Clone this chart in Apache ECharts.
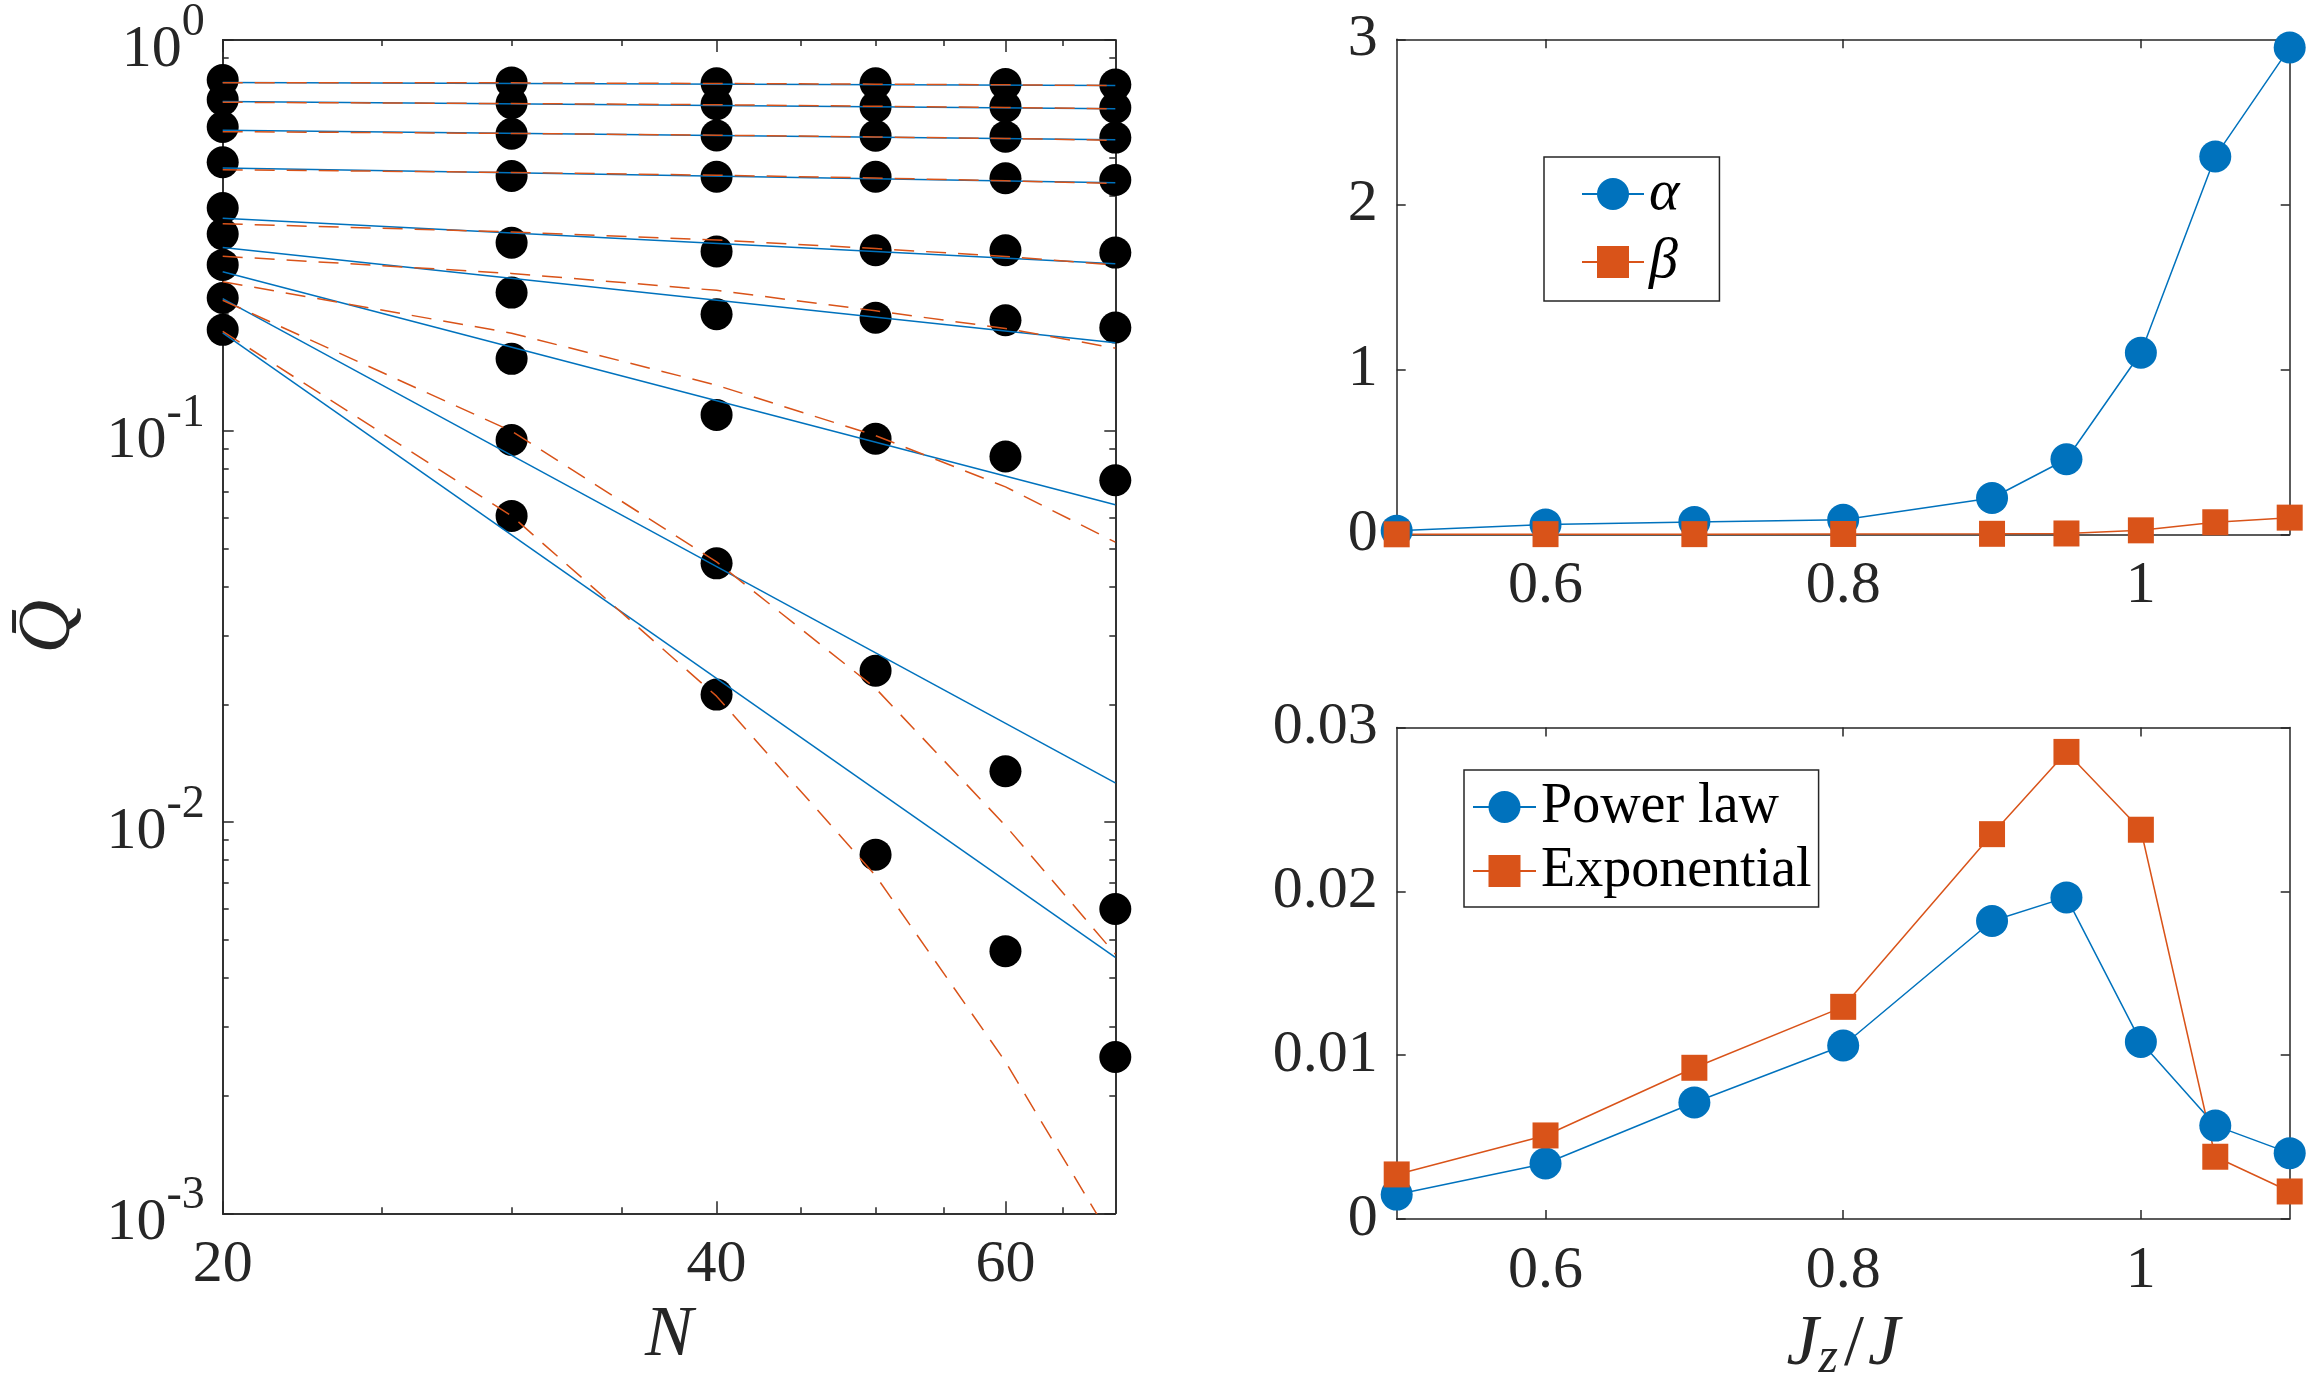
<!DOCTYPE html>
<html>
<head>
<meta charset="utf-8">
<title>Q vs N, fit exponents and errors</title>
<script src="https://cdn.jsdelivr.net/npm/echarts@6/dist/echarts.min.js"></script>
<style>
  html, body { margin: 0; padding: 0; background: #fff; }
  #main { width: 2313px; height: 1385px; }
</style>
</head>
<body>
<div id="main"></div>
<script>
// ---- left panel: Q(N) on log-log axes ----
const nValues = [20, 30, 40, 50, 60, 70];

// one row per curve, values at nValues
const qRow1 = [0.790, 0.779, 0.775, 0.775, 0.772, 0.769];
const qRow2 = [0.703, 0.689, 0.685, 0.675, 0.675, 0.671];
const qRow3 = [0.599, 0.576, 0.570, 0.569, 0.566, 0.563];
const qRow4 = [0.487, 0.449, 0.447, 0.447, 0.443, 0.4385];
const qRow5 = [0.372, 0.303, 0.288, 0.290, 0.290, 0.286];
const qRow6 = [0.319, 0.226, 0.199, 0.195, 0.192, 0.184];
const qRow7 = [0.266, 0.153, 0.110, 0.0956, 0.0861, 0.0749];
const qRow8 = [0.219, 0.0949, 0.0459, 0.0244, 0.0135, 0.0060];
const qRow9 = [0.1815, 0.0607, 0.0212, 0.00826, 0.00468, 0.00251];
const qRows = [qRow1, qRow2, qRow3, qRow4, qRow5, qRow6, qRow7, qRow8, qRow9];

// power-law fits (straight on log-log), values at N = 20 and N = 70
const powerN = [20, 70];
const powerFit = [
  [0.779, 0.765],
  [0.696, 0.667],
  [0.588, 0.5556],
  [0.471, 0.4316],
  [0.350, 0.2677],
  [0.2949, 0.1682],
  [0.2554, 0.0648],
  [0.2182, 0.0126],
  [0.1782, 0.00451]
];

// exponential fits (dashed), read at nValues
const expFit = [
  [0.778, 0.777, 0.774, 0.771, 0.768, 0.765],
  [0.693, 0.688, 0.683, 0.677, 0.672, 0.667],
  [0.583, 0.577, 0.571, 0.565, 0.560, 0.554],
  [0.466, 0.4585, 0.451, 0.4437, 0.4364, 0.4294],
  [0.339, 0.323, 0.308, 0.293, 0.2795, 0.266],
  [0.280, 0.253, 0.229, 0.203, 0.183, 0.163],
  [0.241, 0.178, 0.131, 0.0974, 0.072, 0.052],
  [0.216, 0.100, 0.0463, 0.0220, 0.0098, 0.0046],
  [0.180, 0.0607, 0.0210, 0.0073, 0.00244, 0.00083]
];

const leftXMajor = [20, 40, 60];
const leftXMinor = [25, 30, 35, 45, 50, 55, 65];
const leftYMajor = [0.001, 0.01, 0.1, 1];
const leftYMinor = [0.002, 0.003, 0.004, 0.005, 0.006, 0.007, 0.008, 0.009,
                    0.02, 0.03, 0.04, 0.05, 0.06, 0.07, 0.08, 0.09,
                    0.2, 0.3, 0.4, 0.5, 0.6, 0.7, 0.8, 0.9];

// ---- right panels: vs Jz/J ----
const jz = [0.5, 0.6, 0.7, 0.8, 0.9, 0.95, 1.0, 1.05, 1.1];
const alpha = [0.022, 0.060, 0.075, 0.088, 0.220, 0.455, 1.10, 2.29, 2.95];
const beta = [0.000, 0.001, 0.001, 0.002, 0.003, 0.005, 0.024, 0.073, 0.101];
const errPower = [0.00149, 0.00339, 0.00711, 0.01059, 0.01819, 0.01963, 0.01081, 0.00570, 0.00402];
const errExp = [0.00272, 0.00510, 0.00923, 0.01295, 0.02349, 0.02851, 0.02376, 0.00380, 0.00168];
const rightXTicks = [0.6, 0.8, 1];

const BLUE = '#0072BD';
const RED = '#D95319';
const INK = '#262626';
const FONT = "'Liberation Serif', 'Times New Roman', 'DejaVu Serif', serif";

function mkAxis(type, grid, position, min, max, ticks, tickLen, label) {
  const ax = {
    type: type,
    gridIndex: grid,
    position: position,
    min: min,
    max: max,
    axisLine: { show: true, onZero: false, lineStyle: { color: INK, width: 1.5 } },
    splitLine: { show: false },
    axisTick: { show: true, inside: true, length: tickLen, lineStyle: { color: INK, width: 1.5 } },
    axisLabel: { show: false }
  };
  if (type === 'log') ax.logBase = 10;
  if (ticks) ax.axisTick.customValues = ticks;
  if (label) {
    ax.axisLabel = Object.assign({ show: true, color: INK, fontFamily: FONT, fontSize: 60 }, label);
    if (ticks) ax.axisLabel.customValues = ticks;
  }
  return ax;
}

const supRich = {
  b: { fontFamily: FONT, fontSize: 60, lineHeight: 60, color: INK, padding: [20, 0, 0, 0] },
  s: { fontFamily: FONT, fontSize: 46, lineHeight: 46, color: INK, padding: [0, 0, 34, 0] }
};

const xAxes = [
  // left panel
  Object.assign(mkAxis('log', 0, 'bottom', 20, 70, leftXMajor, 12, { margin: 22 }), {
    name: 'N', nameLocation: 'middle', nameGap: 85,
    nameTextStyle: { fontFamily: FONT, fontStyle: 'italic', fontSize: 72, color: INK }
  }),
  mkAxis('log', 0, 'bottom', 20, 70, leftXMinor, 6),
  mkAxis('log', 0, 'top', 20, 70, leftXMajor, 12),
  mkAxis('log', 0, 'top', 20, 70, leftXMinor, 6),
  // top right
  mkAxis('value', 1, 'bottom', 0.5, 1.1, rightXTicks, 9, { margin: 22, formatter: v => String(v) }),
  mkAxis('value', 1, 'top', 0.5, 1.1, rightXTicks, 9),
  // bottom right
  Object.assign(mkAxis('value', 2, 'bottom', 0.5, 1.1, rightXTicks, 9, { margin: 22, formatter: v => String(v) }), {
    name: '{j|J}{z|z}{s|/}{j|J}', nameLocation: 'middle', nameGap: 90,
    nameTextStyle: {
      rich: {
        j: { fontFamily: FONT, fontStyle: 'italic', fontSize: 72, lineHeight: 72, color: INK },
        z: { fontFamily: FONT, fontStyle: 'italic', fontSize: 50, lineHeight: 50, color: INK, padding: [28, 0, 0, 0] },
        s: { fontFamily: FONT, fontSize: 72, lineHeight: 72, color: INK, padding: [0, 4, 0, 6] }
      }
    }
  }),
  mkAxis('value', 2, 'top', 0.5, 1.1, rightXTicks, 9)
];

const yAxes = [
  Object.assign(mkAxis('log', 0, 'left', 0.001, 1, leftYMajor, 11, {
    margin: 18,
    formatter: v => '{b|10}{s|' + Math.round(Math.log10(v)) + '}',
    rich: supRich
  }), {
    name: 'Q\u0304', nameLocation: 'middle', nameGap: 136,
    nameTextStyle: { fontFamily: FONT, fontStyle: 'italic', fontSize: 74, color: INK }
  }),
  mkAxis('log', 0, 'left', 0.001, 1, leftYMinor, 6),
  mkAxis('log', 0, 'right', 0.001, 1, leftYMajor, 11),
  mkAxis('log', 0, 'right', 0.001, 1, leftYMinor, 6),
  // top right
  Object.assign(mkAxis('value', 1, 'left', 0, 3, null, 9, { margin: 19 }), { interval: 1 }),
  Object.assign(mkAxis('value', 1, 'right', 0, 3, null, 9), { interval: 1 }),
  // bottom right
  Object.assign(mkAxis('value', 2, 'left', 0, 0.03, null, 9, { margin: 19 }), { interval: 0.01 }),
  Object.assign(mkAxis('value', 2, 'right', 0, 0.03, null, 9), { interval: 0.01 })
];

const series = [];

series.push({
  name: 'data',
  type: 'scatter',
  xAxisIndex: 0, yAxisIndex: 0,
  symbol: 'circle', symbolSize: 32,
  itemStyle: { color: '#000', opacity: 1 },
  clip: false,
  z: 1,
  data: qRows.flatMap(row => row.map((q, j) => [nValues[j], q]))
});

powerFit.forEach((fit, i) => {
  series.push({
    name: 'power' + i,
    type: 'line',
    xAxisIndex: 0, yAxisIndex: 0,
    showSymbol: false,
    lineStyle: { color: BLUE, width: 1.5 },
    z: 3,
    data: powerN.map((n, j) => [n, fit[j]])
  });
});

expFit.forEach((fit, i) => {
  series.push({
    name: 'exp' + i,
    type: 'line',
    xAxisIndex: 0, yAxisIndex: 0,
    showSymbol: false,
    clip: true,
    lineStyle: { color: RED, width: 1.5, type: [20, 12] },
    z: 4,
    data: nValues.map((n, j) => [n, fit[j]])
  });
});

function markerLine(name, xi, yi, ys, color, symbol, size) {
  return {
    name: name,
    type: 'line',
    xAxisIndex: xi, yAxisIndex: yi,
    symbol: symbol, symbolSize: size, showSymbol: true,
    clip: false,
    lineStyle: { color: color, width: 1.5 },
    itemStyle: { color: color, opacity: 1 },
    data: jz.map((x, j) => [x, ys[j]])
  };
}

series.push(markerLine('\u03b1', 4, 4, alpha, BLUE, 'circle', 32));
series.push(markerLine('\u03b2', 4, 4, beta, RED, 'rect', 26));
series.push(markerLine('Power law', 6, 6, errPower, BLUE, 'circle', 32));
series.push(markerLine('Exponential', 6, 6, errExp, RED, 'rect', 26));

const option = {
  animation: false,
  backgroundColor: '#fff',
  grid: [
    { left: 222.7, top: 39.3, width: 892.6, height: 1174 },
    { left: 1396.7, top: 39.3, width: 893, height: 495 },
    { left: 1396.7, top: 727.5, width: 893, height: 496 }
  ],
  legend: [
    {
      data: ['\u03b1', '\u03b2'],
      orient: 'vertical',
      left: 1544, top: 157,
      padding: [8, 40, 10, 37],
      itemGap: 10, itemWidth: 62, itemHeight: 40,
      borderColor: INK, borderWidth: 1.5,
      backgroundColor: '#fff',
      selectedMode: false,
      textStyle: { fontFamily: FONT, fontStyle: 'italic', fontSize: 58, color: '#000' }
    },
    {
      data: ['Power law', 'Exponential'],
      orient: 'vertical',
      left: 1464, top: 770,
      padding: [9, 7, 8, 8],
      itemGap: 8, itemWidth: 63, itemHeight: 40,
      borderColor: INK, borderWidth: 1.5,
      backgroundColor: '#fff',
      selectedMode: false,
      textStyle: { fontFamily: FONT, fontSize: 56, color: '#000' }
    }
  ],
  xAxis: xAxes,
  yAxis: yAxes,
  series: series
};

const chart = echarts.init(document.getElementById('main'));
chart.setOption(option);
window.addEventListener('resize', function () { chart.resize(); });
</script>
</body>
</html>
